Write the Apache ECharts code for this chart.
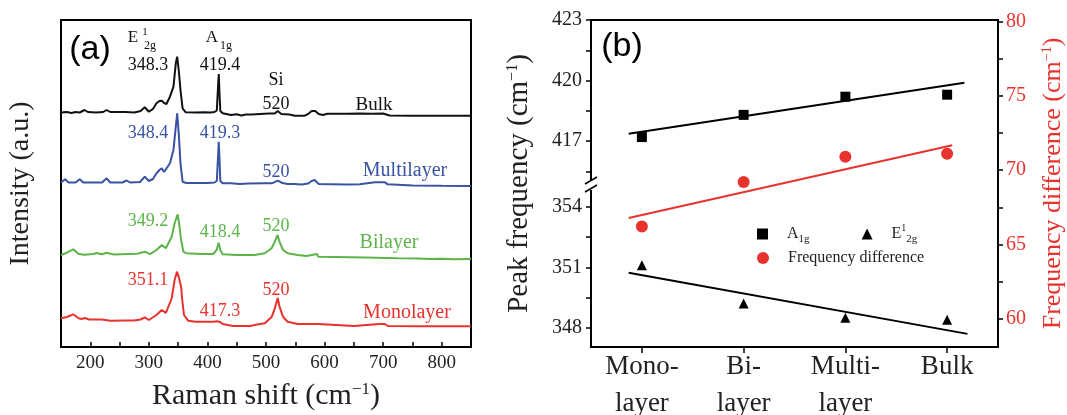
<!DOCTYPE html>
<html>
<head>
<meta charset="utf-8">
<script src="https://cdn.jsdelivr.net/npm/echarts@6.0.0/dist/echarts.min.js"></script>
<style>
  html, body { margin: 0; padding: 0; background: #fff; }
  #main { width: 1067px; height: 415px; }
</style>
</head>
<body>
<div id="main"></div>
<script>
// ---- (a) Raman spectra, [shift, intensity (a.u., offset stack)] ----
var bulk = [[150,234.5],[160,235],[168,234],[175,235],[182,234.5],[190,237],[196,235],[210,234.5],[222,235],[228,237],[234,235],[260,235],[275,234.5],[286,236],[293,239.7],[300,235.3],[307,238],[313,243.7],[318,246],[322,246.3],[326,244],[330,243],[336,250.3],[342,260.3],[346,283.7],[348.3,290.3],[351,277],[354,257],[357.6,238.7],[363,234.7],[380,234.5],[395,234.7],[405,234.5],[412,235],[416,236.5],[418.5,265],[419.4,273],[420.5,255],[422,236],[426,233.7],[432,233],[440,232],[450,232.8],[458,231.5],[466,232.5],[475,232.5],[490,233],[505,233.5],[515,233.5],[520,236],[526,233],[540,232.5],[549,231.3],[566,231.3],[572,233],[578,236],[584,236],[590,233],[597,232],[605,233.3],[640,233.3],[660,233.5],[680,233.2],[700,233.5],[711,231.5],[750,231.3],[800,231.3],[850,231.3]];
var multilayer = [[150,164.5],[157,167.7],[163,164.5],[175,164.5],[182,167.7],[188,164.5],[220,164.5],[228,168.7],[234,164.5],[255,164.5],[262,166.5],[268,164.5],[285,165],[293,170.3],[300,166],[307,168],[313,173.7],[318,177],[322,178.7],[326,175],[329,173.3],[336,183.7],[342,197],[346,220.3],[348.4,233.7],[351.4,210.3],[354,183.7],[357.6,165.3],[364,164],[380,164],[400,164],[412,164.5],[416,166],[418.5,195],[419.3,205.3],[420.5,190],[422,166],[426,163.7],[440,163.7],[455,163],[470,163.5],[498,163.7],[510,163.7],[520,166.3],[528,164],[537,163],[549,163],[561,162.5],[572,163.5],[578,166],[583,167],[590,163],[610,162.8],[640,162.5],[660,162.7],[686,164.7],[703,164.7],[708,162.7],[750,161.5],[800,161.2],[850,161]];
var bilayer = [[150,92],[160,94.3],[171,97.7],[180,93],[190,92.3],[205,93],[211,94],[220,92.8],[228,94.3],[240,92.5],[265,93],[280,93.3],[293,95.3],[302,92.8],[313,97],[322,102],[329,98.7],[339,110.3],[344,123.7],[349.2,132.7],[352,122],[355,107],[359,95.3],[364,93.7],[390,93],[410,93],[415.7,97],[419.1,104.3],[422,97],[426,92.7],[450,92],[480,92],[498,93.7],[509.6,98.7],[515,105.3],[519.8,112],[523,105.3],[529,97],[537,93.7],[554,92],[569,91],[572,93],[587,93],[589,90.3],[620,90],[669,89.5],[725,88.7],[760,88.5],[780,88],[800,88.3],[820,87.8],[850,88]];
var monolayer = [[150,28.7],[160,30],[171,32.7],[180,28.7],[185,28],[191,29],[198,27.5],[220,27.5],[234,26.3],[260,26.5],[275,26.5],[286,27.5],[293,29.7],[300,27],[313,32],[322,37],[329,34],[339,48.7],[344,67],[348,75.3],[351,70.3],[355,60.3],[357,47],[360,32],[367,26.3],[380,25.3],[410,25.3],[416,25.8],[419,27.5],[422,25],[426,23],[444,21],[473,21],[485,22.5],[498,23.7],[510,30.3],[515,38.7],[520,49],[523,40.3],[529,30.3],[537,25.3],[554,23],[589,23],[592,21],[650,21],[694,23],[703,23],[708,21],[760,20.7],[800,20.7],[850,20.7]];

// ---- (b) peak positions ----
var layers = ['Mono-\nlayer', 'Bi-\nlayer', 'Multi-\nlayer', 'Bulk'];
var a1g = [417.2, 418.3, 419.2, 419.3];
var e2g = [351.1, 349.2, 348.5, 348.4];
var freqDiff = [66.2, 69.2, 70.9, 71.1];
// fitted lines, end points
var a1gFit = [[0.87, 417.36], [4.17, 419.89]];
var e2gFit = [[0.87, 350.73], [4.2, 347.7]];
var diffFit = [[0.87, 66.78], [4.05, 71.68]];

var peakTicks = [348, 349.5, 351, 352.5, 354, 415.5, 417, 418.5, 420, 421.5, 423];
var peakLabels = [348, 351, 354, 417, 420, 423];
var diffTicks = [60, 62.5, 65, 67.5, 70, 72.5, 75, 77.5, 80];
var diffLabels = [60, 65, 70, 75, 80];

// broken left axis: the upper segment (A1g) is pulled down onto the lower one
var BREAK_SHIFT = 59.75;
function squeeze(v) { return v > 380 ? v - BREAK_SHIFT : v; }
function unsqueeze(v) { return v > 355.5 ? v + BREAK_SHIFT : v; }

var SERIF = 'Liberation Serif';
var BLACK = '#111', BLUE = '#3953a4', GREEN = '#5db54a', RED = '#e8322e';

var chart = echarts.init(document.getElementById('main'));

function txt(s, x, y, color, size, family) {
    return {
        type: 'text', x: x, y: y, z: 100,
        style: {
            text: s, fill: color,
            font: (size || 18) + 'px "' + (family || SERIF) + '"',
            align: 'center', verticalAlign: 'middle',
            textAlign: 'center', textVerticalAlign: 'middle'
        }
    };
}

var notes = [
    txt('(a)', 90, 50, '#000', 34, 'Liberation Sans'),
    txt('(b)', 622, 47, '#000', 34, 'Liberation Sans'),
    txt('E', 133, 38, BLACK, 17), txt('1', 145, 32, BLACK, 11), txt('2g', 150, 46, BLACK, 12),
    txt('A', 212, 38, BLACK, 17), txt('1g', 226, 46, BLACK, 12),
    txt('348.3', 148, 65, BLACK), txt('419.4', 220, 65, BLACK),
    txt('Si', 276, 80, BLACK), txt('520', 276, 104, BLACK), txt('Bulk', 374, 105, BLACK, 19),
    txt('348.4', 148, 133, BLUE), txt('419.3', 220, 133, BLUE),
    txt('520', 276, 172, BLUE), txt('Multilayer', 405, 171, BLUE, 20),
    txt('349.2', 148, 221, GREEN), txt('418.4', 220, 232, GREEN),
    txt('520', 276, 226, GREEN), txt('Bilayer', 389, 243, GREEN, 20),
    txt('351.1', 148, 280, RED), txt('417.3', 220, 311, RED),
    txt('520', 276, 290, RED), txt('Monolayer', 407, 313, RED, 20),
    // axis break marks on the left axis of (b)
    { type: 'rect', z: 100, shape: { x: 586, y: 180, width: 10, height: 10 }, style: { fill: '#fff' } },
    { type: 'line', z: 101, shape: { x1: 585, y1: 184, x2: 597, y2: 177 }, style: { stroke: '#000', lineWidth: 1.5 } },
    { type: 'line', z: 101, shape: { x1: 585, y1: 192, x2: 597, y2: 185 }, style: { stroke: '#000', lineWidth: 1.5 } }
];

var legendRich = {
    gap: { width: 14 },
    t: { fontFamily: SERIF, fontSize: 16, lineHeight: 22, color: '#222' },
    sup: { fontFamily: SERIF, fontSize: 10, lineHeight: 22, verticalAlign: 'top', color: '#222' },
    sub: { fontFamily: SERIF, fontSize: 11, lineHeight: 22, verticalAlign: 'bottom', color: '#222' }
};
function legendName(n) {
    if (n === 'A1g') return '{gap|}{t|A}{sub|1g}';
    if (n === 'E2g') return '{gap|}{t|E}{sup|1}{sub|2g}';
    return '{gap|}{t|' + n + '}';
}

function spectrum(name, data, color) {
    return {
        name: name, type: 'line', xAxisIndex: 0, yAxisIndex: 0,
        data: data, showSymbol: false, symbol: 'none',
        lineStyle: { color: color, width: 2 }, itemStyle: { color: color }
    };
}
function fitLine(data, yIdx, color, map) {
    return {
        type: 'line', xAxisIndex: 1, yAxisIndex: yIdx, showSymbol: false, symbol: 'none',
        data: data.map(function (p) { return [p[0], map ? map(p[1]) : p[1]]; }),
        lineStyle: { color: color, width: 2 }, z: 3
    };
}
function points(name, vals, yIdx, symbol, size, color, map) {
    return {
        name: name, type: 'scatter', xAxisIndex: 1, yAxisIndex: yIdx,
        symbol: symbol, symbolSize: size,
        data: vals.map(function (v, i) { return [i + 1, map ? map(v) : v]; }),
        itemStyle: { color: color, opacity: 1 }, z: 4
    };
}

var option = {
    animation: false,
    backgroundColor: '#fff',
    grid: [
        { left: 61, top: 20, width: 410, height: 327, show: true, borderColor: '#000', borderWidth: 2, backgroundColor: 'transparent', outerBoundsMode: 'none' },
        { left: 591, top: 20, width: 407, height: 327, show: true, borderColor: '#000', borderWidth: 2, backgroundColor: 'transparent', outerBoundsMode: 'none' }
    ],
    legend: [
        {
            data: ['A1g', 'E2g'], left: 752, top: 218, itemWidth: 11, itemHeight: 11, itemGap: 52,
            formatter: legendName, textStyle: { rich: legendRich }, selectedMode: false
        },
        {
            data: ['Frequency difference'], left: 752, top: 245, itemWidth: 12, itemHeight: 12,
            formatter: legendName, textStyle: { rich: legendRich }, selectedMode: false
        }
    ],
    xAxis: [
        {
            gridIndex: 0, type: 'value', min: 150, max: 850, interval: 50,
            name: 'Raman shift (cm{s|−1})', nameLocation: 'middle', nameGap: 34,
            nameTextStyle: { fontFamily: SERIF, fontSize: 30, color: '#222', rich: { s: { fontFamily: SERIF, fontSize: 17, verticalAlign: 'top', color: '#222' } } },
            axisLine: { show: true, lineStyle: { color: '#000', width: 2 } },
            axisTick: { show: true, inside: true, length: 5, lineStyle: { color: '#000', width: 1.5 } },
            axisLabel: {
                margin: 7, fontFamily: SERIF, fontSize: 19, color: '#222',
                formatter: function (v) { return v % 100 === 0 ? String(v) : ''; }
            },
            splitLine: { show: false }
        },
        {
            gridIndex: 1, type: 'value', min: 0.5, max: 4.5,
            axisLine: { show: true, lineStyle: { color: '#000', width: 2 } },
            axisTick: { show: true, inside: false, length: 6, customValues: [1, 2, 3, 4], lineStyle: { color: '#000', width: 1.5 } },
            axisLabel: {
                customValues: [1, 2, 3, 4], margin: 1,
                fontFamily: SERIF, fontSize: 27, lineHeight: 37, color: '#222',
                formatter: function (v) { return layers[Math.round(v) - 1]; }
            },
            splitLine: { show: false }
        }
    ],
    yAxis: [
        {
            gridIndex: 0, type: 'value', min: 0, max: 327,
            name: 'Intensity (a.u.)', nameLocation: 'middle', nameGap: 26,
            nameTextStyle: { fontFamily: SERIF, fontSize: 28, color: '#222' },
            axisLine: { show: true, lineStyle: { color: '#000', width: 2 } },
            axisTick: { show: false }, axisLabel: { show: false }, splitLine: { show: false }
        },
        {
            gridIndex: 1, type: 'value', position: 'left',
            min: 347.05, max: squeeze(423),
            name: 'Peak frequency (cm{s|−1})', nameLocation: 'middle', nameGap: 57,
            nameTextStyle: { fontFamily: SERIF, fontSize: 29, color: '#222', rich: { s: { fontFamily: SERIF, fontSize: 16, verticalAlign: 'top', color: '#222' } } },
            axisLine: { show: true, lineStyle: { color: '#000', width: 2 } },
            axisTick: { show: true, inside: false, length: 5, customValues: peakTicks.map(squeeze), lineStyle: { color: '#000', width: 1.5 } },
            axisLabel: {
                customValues: peakLabels.map(squeeze), margin: 9,
                fontFamily: SERIF, fontSize: 20, color: '#222',
                formatter: function (v) { return String(Math.round(unsqueeze(v))); }
            },
            splitLine: { show: false }
        },
        {
            gridIndex: 1, type: 'value', position: 'right', min: 58.1, max: 80.1,
            name: 'Frequency difference (cm{s|−1})', nameLocation: 'middle', nameGap: 42, nameRotate: 90,
            nameTextStyle: { fontFamily: SERIF, fontSize: 26, color: RED, rich: { s: { fontFamily: SERIF, fontSize: 14, verticalAlign: 'top', color: RED } } },
            axisLine: { show: true, lineStyle: { color: '#000', width: 2 } },
            axisTick: { show: true, inside: false, length: 5, customValues: diffTicks, lineStyle: { color: '#000', width: 1.5 } },
            axisLabel: {
                customValues: diffLabels, margin: 8,
                fontFamily: SERIF, fontSize: 20, color: RED
            },
            splitLine: { show: false }
        }
    ],
    series: [
        spectrum('Bulk', bulk, BLACK),
        spectrum('Multilayer', multilayer, BLUE),
        spectrum('Bilayer', bilayer, GREEN),
        spectrum('Monolayer', monolayer, RED),
        fitLine(a1gFit, 1, '#000', squeeze),
        fitLine(e2gFit, 1, '#000', squeeze),
        fitLine(diffFit, 2, RED),
        points('A1g', a1g, 1, 'rect', 10, '#000', squeeze),
        points('E2g', e2g, 1, 'triangle', 10, '#000', squeeze),
        points('Frequency difference', freqDiff, 2, 'circle', 12, RED)
    ],
    graphic: notes
};

chart.setOption(option);
</script>
</body>
</html>
